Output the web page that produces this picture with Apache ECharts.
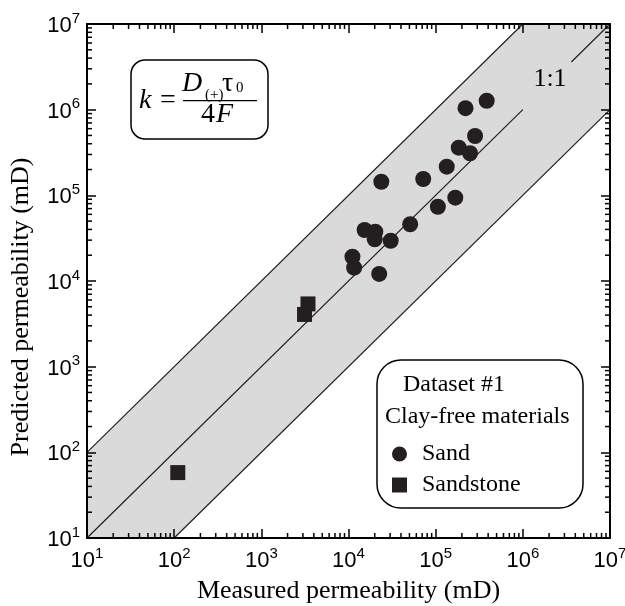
<!DOCTYPE html>
<html>
<head>
<meta charset="utf-8">
<script src="https://cdn.jsdelivr.net/npm/echarts@6/dist/echarts.min.js"></script>
<style>
  html, body { margin: 0; padding: 0; background: #fff; }
  #chart { width: 625px; height: 606px; }
</style>
</head>
<body>
<div id="chart"></div>
<script>
// Dataset #1, clay-free materials: measured vs predicted permeability (mD)
const sandMeasured = [2.2e5, 3.85e5, 2.83e5, 1.84e5, 2.48e5, 1.34e5, 7.2e4, 2.38e4, 1.68e5,
  1.06e5, 5.1e4, 1.53e4, 2.03e4, 2.0e4, 3.05e4, 1.11e4, 1.16e4, 2.25e4]
const sandPredicted = [1.04e6, 1.27e6, 4.93e5, 3.6e5, 3.1e5, 2.16e5, 1.55e5, 1.44e5, 9.4e4,
  7.36e4, 4.6e4, 3.94e4, 3.77e4, 3.07e4, 2.95e4, 1.92e4, 1.43e4, 1.21e4]
const sandstoneMeasured = [3130, 3430, 110]
const sandstonePredicted = [4070, 5400, 58]

const AXIS_MIN = 10
const AXIS_MAX = 1e7

// factor-of-ten band around the 1:1 line
const bandX = [10, 10, 1e6, 1e7, 1e7, 100]
const bandY = [10, 100, 1e7, 1e7, 1e6, 10]
const upperLine = [[10, 100], [1e6, 1e7]]
const lowerLine = [[100, 10], [1e7, 1e6]]
// 1:1 line, broken where the "1:1" label sits
const oneToOneLow = [[10, 10], [1e6, 1e6]]
const oneToOneHigh = [[3.6e6, 3.6e6], [1e7, 1e7]]

// minor ticks 2..9 in every decade
const minorTicks = []
for (let e = 1; e < 7; e++) {
  for (let m = 2; m < 10; m++) minorTicks.push(m * Math.pow(10, e))
}

const SERIF = '"Liberation Serif", "Times New Roman", serif'
const SANS = '"Liberation Sans", Arial, sans-serif'
const INK = '#231f20'

const powLabel = (v) => '{b|10}{s|' + Math.round(Math.log10(v)) + '}'
const powRich = {
  b: { fontFamily: SANS, fontSize: 22, color: '#000', lineHeight: 26, verticalAlign: 'bottom' },
  s: { fontFamily: SANS, fontSize: 15, color: '#000', lineHeight: 26, verticalAlign: 'top' }
}

const baseAxis = {
  type: 'log',
  logBase: 10,
  min: AXIS_MIN,
  max: AXIS_MAX,
  z: 5,
  splitLine: { show: false },
  axisLine: { onZero: false, lineStyle: { color: '#000', width: 2 } },
  axisTick: { inside: true, length: 9, lineStyle: { color: '#000', width: 1.5 } }
}

const chart = echarts.init(document.getElementById('chart'))

const lineSeries = (data) => ({
  type: 'line',
  data: data,
  showSymbol: false,
  silent: true,
  z: 2,
  lineStyle: { color: INK, width: 1.2 }
})

const eqText = (text, x, y, size, italic, align) => ({
  type: 'text',
  x: x,
  y: y,
  style: {
    text: text,
    font: (italic ? 'italic ' : '') + size + 'px ' + SERIF,
    fill: '#000',
    align: align || 'left',
    verticalAlign: 'middle'
  }
})

chart.setOption({
  animation: false,
  grid: { left: 87, right: 15, top: 24, bottom: 68, outerBoundsMode: 'none' },
  xAxis: [
    Object.assign({}, baseAxis, {
      position: 'bottom',
      axisLabel: { formatter: powLabel, rich: powRich, margin: 8 },
      name: 'Measured permeability (mD)',
      nameLocation: 'middle',
      nameGap: 40,
      nameTextStyle: { fontFamily: SERIF, fontSize: 26, color: '#000' }
    }),
    Object.assign({}, baseAxis, { position: 'top', axisLabel: { show: false } })
  ],
  yAxis: [
    Object.assign({}, baseAxis, {
      position: 'left',
      axisLabel: { formatter: powLabel, rich: powRich, margin: 7 },
      name: 'Predicted permeability (mD)',
      nameLocation: 'middle',
      nameGap: 53,
      nameTextStyle: { fontFamily: SERIF, fontSize: 26, color: '#000', padding: [0, 52, 0, 0] }
    }),
    Object.assign({}, baseAxis, { position: 'right', axisLabel: { show: false } })
  ],
  legend: {
    data: [{ name: 'Sand', icon: 'circle' }, { name: 'Sandstone', icon: 'rect' }],
    orient: 'vertical',
    left: 387,
    top: 437,
    z: 20,
    itemWidth: 15,
    itemHeight: 15,
    itemGap: 7,
    selectedMode: false,
    textStyle: { fontFamily: SERIF, fontSize: 24, color: '#000', lineHeight: 24, padding: [0, 0, 0, 10] }
  },
  graphic: [
    {
      type: 'rect',
      shape: { x: 131, y: 60, width: 137, height: 79, r: 14 },
      style: { fill: '#fff', stroke: '#000', lineWidth: 1.5 },
      z: 10
    },
    eqText('k', 139, 100.5, 28, true),
    eqText('=', 168, 100.5, 28, false, 'center'),
    {
      type: 'line',
      shape: { x1: 183, y1: 100.7, x2: 257, y2: 100.7 },
      style: { stroke: '#000', lineWidth: 1.3 },
      z: 11
    },
    eqText('D', 182, 83.5, 28, true),
    eqText('(+)', 205, 95, 15, false),
    eqText('τ', 222, 83.5, 28, false),
    eqText('0', 236, 88, 15, false),
    eqText('4', 201, 115, 28, false),
    eqText('F', 216, 115, 28, true),
    {
      type: 'rect',
      shape: { x: 377, y: 360, width: 206, height: 148, r: 24 },
      style: { fill: '#fff', stroke: '#000', lineWidth: 1.5 },
      z: 10
    },
    eqText('Dataset #1', 403, 385, 24, false),
    eqText('Clay-free materials', 385, 417, 24, false),
    eqText('1:1', 550, 79, 26, false, 'center')
  ].map((g) => Object.assign({ z: 11 }, g)),
  series: [
    {
      type: 'custom',
      silent: true,
      z: 1,
      data: [[AXIS_MIN, AXIS_MIN]],
      renderItem: (params, api) => ({
        type: 'polygon',
        shape: { points: bandX.map((x, i) => api.coord([x, bandY[i]])) },
        style: { fill: '#dadada' }
      })
    },
    lineSeries(upperLine),
    lineSeries(lowerLine),
    lineSeries(oneToOneLow),
    lineSeries(oneToOneHigh),
    {
      type: 'custom',
      silent: true,
      z: 6,
      data: minorTicks.map((v) => [v, v]),
      renderItem: (params, api) => {
        const v = api.value(0)
        const b = api.coord([v, AXIS_MIN])
        const t = api.coord([v, AXIS_MAX])
        const l = api.coord([AXIS_MIN, v])
        const r = api.coord([AXIS_MAX, v])
        const st = { stroke: '#000', lineWidth: 1.5 }
        const len = 5
        return {
          type: 'group',
          children: [
            { type: 'line', shape: { x1: b[0], y1: b[1], x2: b[0], y2: b[1] - len }, style: st },
            { type: 'line', shape: { x1: t[0], y1: t[1], x2: t[0], y2: t[1] + len }, style: st },
            { type: 'line', shape: { x1: l[0], y1: l[1], x2: l[0] + len, y2: l[1] }, style: st },
            { type: 'line', shape: { x1: r[0], y1: r[1], x2: r[0] - len, y2: r[1] }, style: st }
          ]
        }
      }
    },
    {
      name: 'Sand',
      type: 'scatter',
      symbol: 'circle',
      symbolSize: 16,
      z: 4,
      itemStyle: { color: INK, opacity: 1 },
      data: sandMeasured.map((x, i) => [x, sandPredicted[i]])
    },
    {
      name: 'Sandstone',
      type: 'scatter',
      symbol: 'rect',
      symbolSize: 15,
      z: 4,
      itemStyle: { color: INK, opacity: 1 },
      data: sandstoneMeasured.map((x, i) => [x, sandstonePredicted[i]])
    }
  ]
})

window.addEventListener('resize', () => {
  chart && chart.resize()
})
</script>
</body>
</html>
